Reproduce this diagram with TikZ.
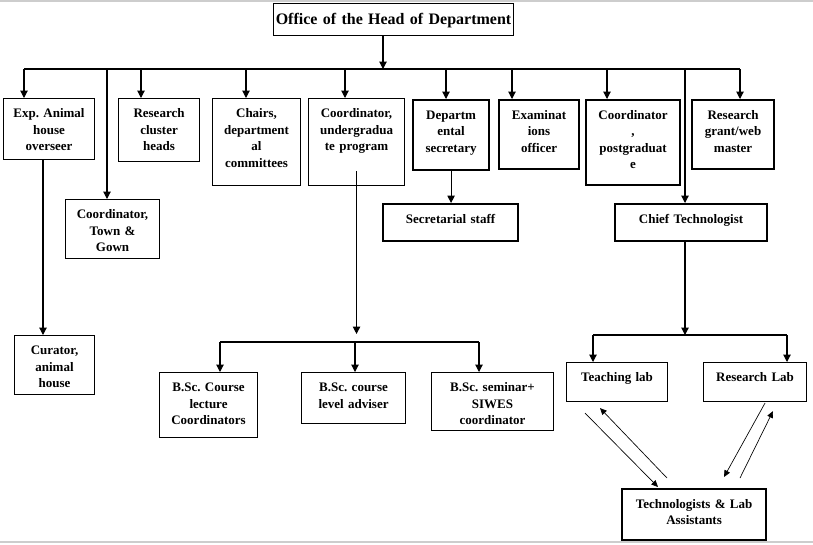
\documentclass[tikz,border=0pt]{standalone}
\usepackage{fontspec}
\setmainfont{Liberation Serif}
\usetikzlibrary{arrows.meta,positioning}
\definecolor{framegrey}{RGB}{205,205,205}
\frenchspacing

\begin{document}
\begin{tikzpicture}[x=0.75pt,y=-0.75pt,
  every node/.style={font=\fontsize{9.75}{12.4}\selectfont\bfseries},
  box/.style={draw,line width=0.8pt,anchor=north west,align=center,inner xsep=0pt,inner ysep=0pt,text height=14.25pt},
  tbox/.style={box,line width=1.6pt},
  ar/.style={-{Triangle[length=5.5pt,width=5.5pt]},line width=0.8pt},
  diag/.style={-{Triangle[length=5pt,width=4.5pt]},line width=0.5pt}]
\useasboundingbox (0,0) rectangle (813,544);
\draw[framegrey,line width=1.2pt] (0,1) -- (813,1);
\draw[framegrey,line width=1.2pt] (0,542) -- (813,542);
% top of the chart
\node[box,font=\fontsize{12}{14}\selectfont\bfseries,text width=180pt,text height=15.75pt,text depth=8.25pt] (head) at (273,3) {Office of the Head of Department};
% first row
\node[box,text width=68.25pt,text depth=31.5pt] (exp) at (3,98) {Exp. Animal\\house\\overseer};
\node[box,text width=70.5pt,text depth=30pt] (tg) at (65,199) {Coordinator,\\Town \&\\Gown};
\node[box,text width=60.75pt,text depth=33pt] (rc) at (118,98) {Research\\cluster\\heads};
\node[box,text width=66pt,text depth=51pt] (ch) at (212,98) {Chairs,\\department\\al\\committees};
\node[box,text width=72pt,text depth=51pt] (ug) at (308,98) {Coordinator,\\undergradua\\te program};
\node[tbox,text width=57pt,text depth=38.25pt] (ds) at (412,99) {Departm\\ental\\secretary};
\node[tbox,text width=60pt,text depth=37.5pt] (eo) at (498,99) {Examinat\\ions\\officer};
\node[tbox,text width=70.5pt,text depth=49.5pt] (pg) at (585,99) {Coordinator\\,\\postgraduat\\e};
\node[tbox,text width=61.5pt,text depth=37.5pt] (rg) at (691,99) {Research\\grant/web\\master};
% second row
\node[tbox,text width=101.25pt,text depth=13.5pt] (ss) at (382,203) {Secretarial staff};
\node[tbox,text width=114pt,text depth=13.5pt] (ct) at (614,203) {Chief Technologist};
\node[box,text width=60pt,text depth=30pt] (cur) at (14,335) {Curator,\\animal\\house};
\node[box,text width=73.5pt,text depth=34.5pt] (lec) at (159,372) {B.Sc. Course\\lecture\\Coordinators};
\node[box,text width=78pt,text depth=24pt] (lev) at (301,372) {B.Sc. course\\level adviser};
\node[box,text width=91.5pt,text depth=29.25pt] (sem) at (431,372) {B.Sc. seminar+\\SIWES\\coordinator};
\node[box,text width=75.75pt,text depth=15pt] (tl) at (566,362) {Teaching lab};
\node[box,text width=77.25pt,text depth=15pt] (rl) at (703,362) {Research Lab};
\node[tbox,text width=108pt,text depth=24pt] (tla) at (621,488) {Technologists \& Lab\\Assistants};
% connectors
\coordinate (hb) at (383,69);
\draw[ar] (head.south -| hb) -- (hb);
\foreach \n/\x in {exp/24,tg/107,rc/141,ch/246,ug/345,ds/446,eo/512,pg/607,ct/685,rg/740}
  {\coordinate (b-\n) at (\x,69);
   \draw[ar] (b-\n) -- (b-\n |- \n.north);}
\draw[line width=0.8pt] (b-exp) -- (b-rg);
\coordinate (xc) at (43,160);
\draw[ar] (exp.south -| xc) -- (cur.north -| xc);
\draw[ar] (ds.south) -- (ss.north -| ds.south);
\foreach \n/\x in {lec/220,lev/355,sem/479}
  {\coordinate (u-\n) at (\x,342);
   \draw[ar] (u-\n) -- (u-\n |- \n.north);}
\draw[line width=0.8pt] (u-lec) -- (u-sem);
\coordinate (u-top) at (356,334);
\draw[ar] ([yshift=11.25pt]ug.south) -- (ug.south |- u-top);
\foreach \n/\x in {tl/593,rl/787}
  {\coordinate (c-\n) at (\x,335);
   \draw[ar] (c-\n) -- (c-\n |- \n.north);}
\draw[line width=0.8pt] (c-tl) -- (c-rl);
\draw[ar] (ct.south -| b-ct) -- (b-ct |- c-tl);
\draw[diag] ([shift={(19,11)}]tl.south west) -- ([shift={(37,-1)}]tla.north west);
\draw[diag] ([shift={(46,-10)}]tla.north west) -- ([shift={(34,6)}]tl.south west);
\draw[diag] ([shift={(62,1)}]rl.south west) -- ([shift={(103,-11)}]tla.north west);
\draw[diag] ([shift={(119,-10)}]tla.north west) -- ([shift={(70,9)}]rl.south west);
\end{tikzpicture}
\end{document}
